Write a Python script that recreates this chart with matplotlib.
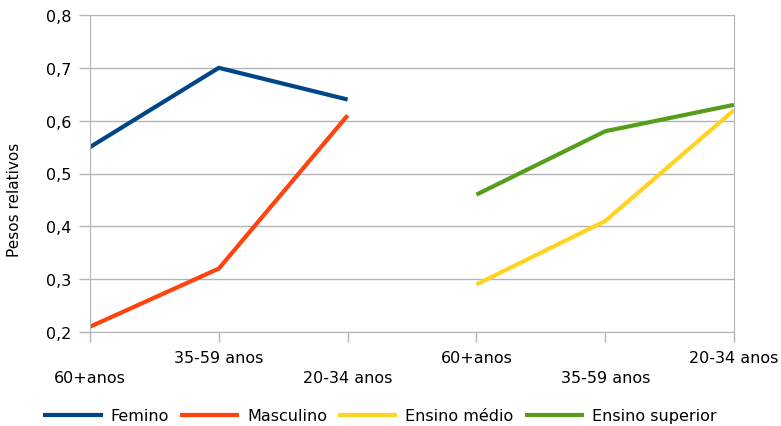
import numpy as np
import matplotlib.pyplot as plt

plt.rcParams['font.family'] = ['DejaVu Sans']

# faixas etárias: três para sexo, três para escolaridade
categorias = ["60+anos", "35-59 anos", "20-34 anos", "60+anos", "35-59 anos", "20-34 anos"]
femino = [0.55, 0.70, 0.64]
masculino = [0.21, 0.32, 0.61]
ensino_medio = [0.29, 0.41, 0.62]
ensino_superior = [0.46, 0.58, 0.63]

x = np.arange(len(categorias))

fig = plt.figure(figsize=(7.81, 4.27), dpi=100)
ax = fig.add_axes([90 / 781, 1 - 333 / 427, (734 - 90) / 781, (333 - 16) / 427])

ax.plot(x[:3], femino, color='#004586', lw=3, label='Femino', solid_capstyle='butt')
ax.plot(x[:3], masculino, color='#ff420e', lw=3, label='Masculino', solid_capstyle='butt')
ax.plot(x[3:], ensino_medio, color='#ffd320', lw=3, label='Ensino médio', solid_capstyle='butt')
ax.plot(x[3:], ensino_superior, color='#579d1c', lw=3, label='Ensino superior', solid_capstyle='butt')

ax.set_xlim(0, 5)
ax.set_ylim(0.2, 0.8)
yt = np.arange(0.2, 0.81, 0.1)
ax.set_yticks(yt)
ax.set_yticklabels([f"{v:.1f}".replace('.', ',') for v in yt], fontsize=11.5)

# rótulos do eixo x alternados em duas linhas
labels = [("\n" + c) if i % 2 == 0 else c for i, c in enumerate(categorias)]
ax.set_xticks(x)
ax.set_xticklabels(labels, fontsize=11.5, linespacing=1.42)
ax.tick_params(axis='x', length=7.2, width=1, color='#b3b3b3', pad=5.5)
ax.tick_params(axis='y', length=8, width=1, color='#b3b3b3', pad=5.5)

ax.grid(axis='y', color='#b3b3b3', lw=1)
ax.set_axisbelow(True)
for side in ['left', 'right', 'bottom']:
    ax.spines[side].set_color('#b3b3b3')
ax.spines['top'].set_visible(False)

ax.set_ylabel('Pesos relativos', fontsize=11)
ax.yaxis.set_label_coords(-0.106, 0.42)

fig.legend(loc='center', bbox_to_anchor=(380 / 781, 1 - 417 / 427), ncol=4, frameon=False,
           fontsize=11.5, handlelength=3.7, handletextpad=0.5, columnspacing=0.7)

fig.savefig('out.png', dpi=100)
